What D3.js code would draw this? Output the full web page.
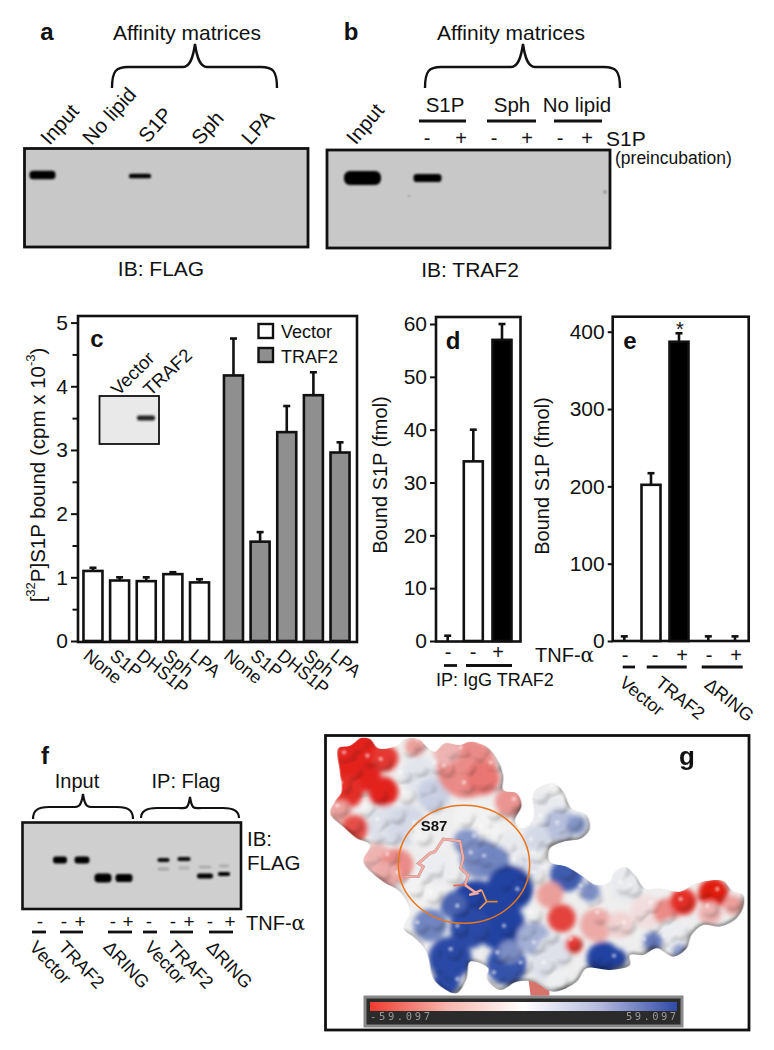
<!DOCTYPE html>
<html><head><meta charset="utf-8"><style>
html,body{margin:0;background:#fff}
svg{display:block}
text{font-family:"Liberation Sans",Arial,sans-serif;fill:#111}
</style><script src="https://cdn.jsdelivr.net/npm/d3@7"></script></head><body>
<svg id="fig" width="774" height="1050"></svg>
<script>
// ---- panel c
const cTreat=["None","S1P","DHS1P","Sph","LPA"];
const cGroups=["Vector","TRAF2"];
const cVector=[1.10,0.95,0.94,1.05,0.92];
const cVectorTop=[1.15,1.00,1.00,1.08,0.97];
const cTraf=[4.17,1.56,3.28,3.86,2.96];
const cTrafTop=[4.75,1.71,3.69,4.22,3.12];
const cTicks=[0,1,2,3,4,5];
const cMinor=[0.5,1.5,2.5,3.5,4.5];
// ---- panel d
const dKeys=["IgG","TRAF2-","TRAF2+"];
const dVal=[0,34,57];
const dTop=[1,40,60];
const dTicks=[0,10,20,30,40,50,60];
const dSigns=["-","-","+"];
// ---- panel e
const eKeys=["V-","T-","T+","R-","R+"];
const eVal=[0,202,387,0,0];
const eTop=[6,217,398,6,6];
const eTicks=[0,100,200,300,400];
const eSigns=["-","-","+","-","+"];
// ---- blot labels
const aLanes=["Input","No lipid","S1P","Sph","LPA"];
const bGroups=["S1P","Sph","No lipid"];
const fGroups=["Vector","TRAF2","ΔRING","Vector","TRAF2","ΔRING"];
const colorStops=["-59.097","59.097"];

const svg=d3.select("#fig");
const defs=svg.append("defs");
[["b1",0.8],["b2",1.4],["b3",5],["b4",16],["b5",3],["b6",8]].forEach(([id,s])=>{
  defs.append("filter").attr("id",id).attr("x","-50%").attr("y","-50%").attr("width","200%").attr("height","200%")
   .append("feGaussianBlur").attr("stdDeviation",s);
});

function txt(x,y,s,o={}){
  const t=svg.append("text").attr("x",x).attr("y",y).text(s)
    .attr("font-size",o.size||18).attr("text-anchor",o.anchor||"start").attr("dominant-baseline","central");
  if(o.bold)t.attr("font-weight","bold");
  if(o.rot!=null)t.attr("transform",`rotate(${o.rot} ${x} ${y})`);
  if(o.fam)t.style("font-family",o.fam);
  if(o.fill)t.style("fill",o.fill);
  return t;
}
function brace(x0,x1,xm,yTop,yLine,yEnd,w){
  const p=d3.path();
  p.moveTo(x0,yEnd);p.bezierCurveTo(x0,yLine+4,x0+4,yLine,x0+16,yLine);
  p.lineTo(xm-12,yLine);p.bezierCurveTo(xm-5,yLine,xm-2,yTop+14,xm,yTop);
  p.bezierCurveTo(xm+2,yTop+14,xm+5,yLine,xm+12,yLine);
  p.lineTo(x1-16,yLine);p.bezierCurveTo(x1-4,yLine,x1,yLine+4,x1,yEnd);
  svg.append("path").attr("d",p.toString()).attr("fill","none").attr("stroke","#111").attr("stroke-width",w||2.4);
}
function hline(x0,x1,y,w){svg.append("line").attr("x1",x0).attr("x2",x1).attr("y1",y).attr("y2",y).attr("stroke","#111").attr("stroke-width",w||2.8);}
function box(x0,y0,x1,y1,fill,w){svg.append("rect").attr("x",x0).attr("y",y0).attr("width",x1-x0).attr("height",y1-y0).attr("fill",fill).attr("stroke","#111").attr("stroke-width",w||2.6);}
function band(cx,cy,w,h,op,blur,col){svg.append("rect").attr("x",cx-w/2).attr("y",cy-h/2).attr("width",w).attr("height",h).attr("rx",h/2.4).attr("fill",col||"#050505").attr("opacity",op==null?1:op).attr("filter",`url(#${blur||"b1"})`);}

// ===== a
txt(47,31,"a",{bold:true,size:24,anchor:"middle"});
txt(187,32,"Affinity matrices",{anchor:"middle",size:21});
brace(112,277,195,44,67,88);
[[44,141],[86,141],[142,139],[195,141],[245,141]].forEach((p,i)=>txt(p[0],p[1],aLanes[i],{rot:-48,size:20.5}));
box(24.5,148.5,308,247,"#c8c8c8",2.8);
band(42.5,175,26,8.5,1,"b1");
band(140,176,22,4.5,1,"b1");
txt(161,268,"IB: FLAG",{anchor:"middle",size:21});
// ===== b
txt(351,31,"b",{bold:true,size:24,anchor:"middle"});
txt(511,32,"Affinity matrices",{anchor:"middle",size:21});
brace(425,620,523,44,67,88);
txt(350,141,"Input",{rot:-50,size:20.5});
[[445],[512],[577]].forEach((p,i)=>txt(p[0],104,bGroups[i],{anchor:"middle",size:20.5}));
hline(419,466,121);hline(487,536,121);hline(554,602,121);
["-","+","-","+","-","+"].forEach((s,i)=>txt([427,461,494,527,560,587][i],138,s,{anchor:"middle",size:20}));
txt(606,138,"S1P",{size:21});
txt(615,158,"(preincubation)",{size:17.5});
box(327,150,610,248,"#c8c8c8",2.8);
band(362.5,178,37,14,1,"b1");
band(427.5,178,28,8,1,"b1");
band(605,192,3,3,.35,"b1");
band(409,196,2,2,.25,"b1");
txt(470,269,"IB: TRAF2",{anchor:"middle",size:21});

// ===== bar helpers
function axisL(x,scale,ticks,size,fs,minor){
  const g=svg.append("g").attr("transform",`translate(${x},0)`)
    .call(d3.axisLeft(scale).tickValues(ticks).tickSize(size).tickPadding(3).tickFormat(d3.format("d")));
  g.select(".domain").remove();
  g.selectAll("line").attr("stroke","#111").attr("stroke-width",2);
  g.selectAll("text").attr("font-size",fs).style("font-family",'"Liberation Sans",Arial,sans-serif').style("fill","#111");
  if(minor){
    const m=svg.append("g").attr("transform",`translate(${x},0)`).call(d3.axisLeft(scale).tickValues(minor).tickSize(size-1.5).tickFormat(""));
    m.select(".domain").remove();m.selectAll("line").attr("stroke","#111").attr("stroke-width",2);
  }
}
function bars(y,xc,keys,vals,tops,fills,bw){
  const base=y(0);
  keys.forEach((k,i)=>{
    const c=xc(k);
    svg.append("line").attr("x1",c).attr("x2",c).attr("y1",y(vals[i])).attr("y2",y(tops[i])).attr("stroke","#111").attr("stroke-width",2.6);
    svg.append("line").attr("x1",c-3.5).attr("x2",c+3.5).attr("y1",y(tops[i])).attr("y2",y(tops[i])).attr("stroke","#111").attr("stroke-width",2.6);
    if(vals[i]>0)svg.append("rect").attr("x",c-bw/2).attr("y",y(vals[i])).attr("width",bw).attr("height",base-y(vals[i])).attr("fill",fills[i]).attr("stroke","#111").attr("stroke-width",2.6);
  });
}

// ===== c
const cy=d3.scaleLinear().domain([0,5]).range([641,322.6]);
box(78,316,357,642,"#fff",2.6);
const cOuter=d3.scaleBand().domain(cGroups).range([79.65,353.35]).paddingInner(0.052);
const cInner=d3.scaleBand().domain(cTreat).range([0,cOuter.bandwidth()]);
const xV=k=>cOuter("Vector")+cInner(k)+cInner.bandwidth()/2;
const xT=k=>cOuter("TRAF2")+cInner(k)+cInner.bandwidth()/2;
bars(cy,xV,cTreat,cVector,cVectorTop,cTreat.map(()=>"#fff"),19);
bars(cy,xT,cTreat,cTraf,cTrafTop,cTreat.map(()=>"#8f8f8f"),19);
axisL(78,cy,cTicks,7,21,cMinor);
cTreat.forEach(k=>{txt(xV(k)-7,653,k,{rot:39,size:18});txt(xT(k)-7,653,k,{rot:39,size:18});});
txt(97,338,"c",{bold:true,size:24,anchor:"middle"});
box(258.5,324,273,338,"#fff",2.4);box(258.5,348,273,362,"#8f8f8f",2.4);
txt(281,332,"Vector",{size:18});txt(281,357,"TRAF2",{size:18});
const yl=svg.append("text").attr("transform","translate(37,475) rotate(-90)").attr("text-anchor","middle").attr("dominant-baseline","central").attr("font-size",20.5);
yl.append("tspan").text("[");
yl.append("tspan").text("32").attr("font-size",13).attr("dy",-7);
yl.append("tspan").text("P]S1P bound (cpm x 10").attr("dy",7);
yl.append("tspan").text("-3").attr("font-size",13).attr("dy",-7);
yl.append("tspan").text(")").attr("dy",7);
// inset
box(99.5,396,159,444,"#e9e9e9",1.8);
band(146,418,18,5,1,"b1","#222");
txt(114,392,"Vector",{rot:-45,size:18.5});txt(146,392,"TRAF2",{rot:-43,size:18.5});

// ===== d
const dy=d3.scaleLinear().domain([0,60]).range([641,324]);
box(436,317,520.5,641.5,"#fff",2.6);
const dx=d3.scaleOrdinal().domain(dKeys).range([447.7,473.3,502]);
bars(dy,dx,dKeys,dVal,dTop,["#fff","#fff","#000"],19);
axisL(436,dy,dTicks,6,21);
txt(453,340,"d",{bold:true,size:24,anchor:"middle"});
dKeys.forEach((k,i)=>txt([448,473,498][i],652,dSigns[i],{anchor:"middle",size:20}));
hline(444,457,665.5);hline(466,512,665.5);
txt(436,680,"IP: IgG TRAF2",{size:18});
txt(380,475,"Bound S1P (fmol)",{rot:-90,anchor:"middle",size:20});

// ===== e
const ey=d3.scaleLinear().domain([0,400]).range([641,331.7]);
box(612.7,316.7,748.7,641,"#fff",2.6);
const ex=d3.scaleOrdinal().domain(eKeys).range([624.3,651,679,708.3,735]);
bars(ey,ex,eKeys,eVal,eTop,["#fff","#fff","#000","#fff","#fff"],19);
axisL(612.7,ey,eTicks,5,21);
txt(630,340,"e",{bold:true,size:24,anchor:"middle"});
txt(680,329,"*",{anchor:"middle",size:20});
eKeys.forEach((k,i)=>txt([625,655,682,709,736][i],655,eSigns[i],{anchor:"middle",size:20}));
hline(622.7,635,667);hline(646.7,686.7,667);hline(701.7,742.7,667);
[[622,680,"Vector"],[658,680,"TRAF2"],[707,682,"ΔRING"]].forEach(p=>txt(p[0],p[1],p[2],{rot:39,size:18}));
txt(542,476,"Bound S1P (fmol)",{rot:-90,anchor:"middle",size:20});
const tnf=(x,y)=>{const t=svg.append("text").attr("x",x).attr("y",y).attr("dominant-baseline","central").attr("font-size",20);t.append("tspan").text("TNF-");t.append("tspan").text("α").style("font-family","'DejaVu Serif',serif");};
tnf(535,655);

// ===== f
txt(45,755,"f",{bold:true,size:24,anchor:"middle"});
txt(77,781,"Input",{anchor:"middle",size:20});
txt(186,781,"IP: Flag",{anchor:"middle",size:20});
brace(33,133,83,794,807,819,2.2);
brace(141,239,190,797,808,818,2.2);
box(22.5,822.5,241,909,"#cfcfcf",2.6);
[[60,860,14,7,1],[82,860,15,7,1],[103,878,17,9,1],[124,878,17,8,1],
 [163.5,860,12,4,.95],[184,859,13,4,.95],[163.5,869,11,3,.2],[184,868,11,3,.15],
 [205,876,16,5,1],[224,874,12,4,1],[205,867,12,2.5,.2],[224,866,10,2.5,.2]].forEach(b=>band(b[0],b[1],b[2],b[3],b[4],"b1"));
txt(247,838,"IB:",{size:20.5});txt(247,862,"FLAG",{size:20.5});
[["-",40],["-",64],["+",80],["-",113],["+",128],["-",149],["-",173],["+",189],["-",210],["+",230]].forEach(p=>txt(p[1],921,p[0],{anchor:"middle",size:19}));
[[32,46],[60,83],[108,132],[143,157],[170,193],[209,233]].forEach(p=>hline(p[0],p[1],932));
tnf(246,923);
[33,62,107,148,171,210].forEach((x,i)=>txt(x,944,fGroups[i],{rot:47,size:18}));

// ===== g
box(325.5,735.5,749,1030,"#fff",2.8);
const surface=svg.append("g").attr("transform","translate(320,725) scale(0.3333)");
const outline=[[55,70],[90,62],[125,38],[150,42],[175,70],[230,62],[255,42],[295,42],[325,70],[345,80],[375,55],[420,60],[450,50],[500,65],[530,100],[550,150],[550,195],[590,205],[605,240],[585,290],[610,310],[640,280],[640,205],[660,185],[700,175],[730,200],[755,250],[800,270],[810,310],[785,340],[730,350],[690,370],[690,410],[740,425],[790,455],[830,480],[870,470],[880,445],[915,425],[945,450],[975,490],[1020,490],[1080,500],[1130,475],[1210,468],[1235,495],[1270,510],[1272,540],[1250,580],[1200,605],[1150,600],[1115,630],[1100,670],[1060,695],[1010,670],[970,690],[930,690],[930,720],[870,735],[800,730],[770,770],[700,800],[640,770],[590,770],[540,795],[500,760],[505,730],[450,710],[440,760],[410,805],[370,790],[340,760],[320,680],[285,640],[250,610],[270,560],[240,500],[190,470],[130,410],[150,360],[110,340],[75,310],[30,265],[45,230],[65,200],[60,140]];
const closed=d3.line().curve(d3.curveCatmullRomClosed.alpha(0.5));
defs.append("clipPath").attr("id","sil").append("path").attr("d",closed(outline));
const charge=d3.scaleLinear().domain([-1,0,1]).range(["#e3241c","#f2f2f2","#2c4aa6"]);
surface.append("path").attr("d","M625,760L690,760L688,812L632,812Z").attr("fill","#d8736b");
const inner=surface.append("g").attr("clip-path","url(#sil)");
inner.append("rect").attr("width",1300).attr("height",830).attr("fill","#efefef");
const patches=[
[300,150,55,.08],[340,210,50,.2],[200,300,60,.1],[260,300,60,.15],[310,330,40,0],
[440,130,90,-.5],[490,160,50,-.6],[570,230,45,-.45],[285,65,30,-.4],[380,80,40,-.3],
[110,130,75,-1],[100,85,55,-1],[130,70,45,-1],[190,200,45,-1],[80,200,50,-.95],[60,260,35,-.4],[105,310,40,-.8],[195,100,40,-.9],
[170,400,45,-.3],[230,420,50,-.5],[200,450,40,-.35],
[320,490,60,0],[350,430,50,.03],[450,280,50,0],[500,320,50,0],[570,370,45,.05],[620,430,40,.1],
[440,350,40,.55],[480,400,60,.6],[520,410,50,.65],[570,490,70,1.05],[470,550,85,1.05],[540,600,75,1.05],[400,540,40,.85],[450,610,60,1],
[330,600,50,.65],[390,700,65,1],[380,770,40,1],[560,720,60,.95],[570,680,35,.6],[640,640,50,.4],[680,720,50,.1],[720,770,40,.02],
[680,250,50,.05],[720,300,50,.3],[770,300,30,.55],[650,340,40,.15],
[740,450,50,.9],[810,500,30,.6],[920,480,50,.05],
[830,600,50,-.35],[900,600,40,-.15],[980,560,50,-.1],[1040,560,40,-.5],[1090,530,40,-.95],[1180,505,45,-1.05],[1240,540,30,-.4],[1170,565,35,-.3],[1060,630,50,.03],[850,700,50,1.05],[890,700,30,1.05],[1000,650,30,.7],[1080,680,25,.5],[700,680,50,.1],
[690,510,40,-.4],[725,580,42,-.85],[762,660,26,-.9]];
inner.append("g").attr("filter","url(#b6)").selectAll("circle").data(patches).join("circle")
  .attr("cx",d=>d[0]).attr("cy",d=>d[1]).attr("r",d=>d[2]).attr("fill",d=>charge(d[3]));
// bumpy relief: the alpha of this layer is a height map, lit from the upper left and multiplied over the colours
const lumps=[[80,90],[120,60],[150,100],[100,140],[70,180],[130,190],[190,110],[175,210],[60,250],[100,300],[140,250],
[270,70],[300,50],[385,80],[430,75],[480,85],[520,120],[440,130],[380,130],[490,170],[440,180],[530,170],
[250,150],[300,130],[350,120],[320,190],[260,210],[340,235],[180,290],[230,270],[290,300],[170,330],[310,335],[215,335],
[590,230],[560,250],[520,260],[160,395],[210,395],[190,440],[240,450],
[440,280],[490,310],[520,340],[470,340],[560,370],[590,410],[610,440],[650,450],
[350,430],[310,450],[290,490],[340,510],[400,450],
[500,400],[540,420],[460,390],[430,350],[420,550],[460,520],[600,500],[560,470],
[300,600],[350,590],[420,610],[480,620],[560,610],[340,680],[400,680],[390,740],[420,770],[350,720],[540,690],[580,680],[530,750],[570,750],[610,720],
[660,210],[700,190],[720,240],[670,280],[760,290],[720,300],[680,340],[640,350],[730,330],[650,390],
[740,440],[790,490],[820,520],[640,570],[690,630],[650,660],[730,690],[680,720],[720,770],[760,650],[620,620],
[840,570],[880,590],[920,600],[960,560],[1000,540],[1040,570],[1090,530],[1150,495],[1200,500],[1240,530],[1170,550],[1080,620],[1040,640],[1000,600],[910,480],[900,440],[940,490],[850,700],[890,700],[820,690],[980,650],[1070,680]];
const relief=defs.append("filter").attr("id","relief").attr("filterUnits","userSpaceOnUse").attr("x",0).attr("y",0).attr("width",1300).attr("height",830).attr("color-interpolation-filters","sRGB");
relief.append("feGaussianBlur").attr("in","SourceAlpha").attr("stdDeviation",7).attr("result","h");
const lit=relief.append("feDiffuseLighting").attr("in","h").attr("surfaceScale",10).attr("diffuseConstant",1.15).attr("lighting-color","#fff").attr("result","l");
lit.append("feDistantLight").attr("azimuth",235).attr("elevation",60);
const reliefG=inner.append("g").attr("filter","url(#relief)").style("mix-blend-mode","multiply");
reliefG.append("path").attr("d",closed(outline)).attr("fill","#000").attr("fill-opacity",.45);
reliefG.selectAll("circle").data(lumps).join("circle").attr("cx",d=>d[0]).attr("cy",d=>d[1]).attr("r",24).attr("fill","#000").attr("opacity",.35);
// glossy spots
inner.append("g").attr("filter","url(#b5)").selectAll("circle").data(lumps.filter((d,i)=>i%2==0)).join("circle").attr("cx",d=>d[0]-8).attr("cy",d=>d[1]-8).attr("r",7).attr("fill","#fff").attr("opacity",.5);
// ligand
const ligand=[[255,455],[295,455],[310,425],[295,415],[330,385],[345,380],[370,342],[420,348],[430,400],[422,430],[445,450],[435,480],[470,505],[448,510],[485,495]];
const straight=d3.line();
surface.append("path").attr("d",straight(ligand)).attr("fill","none").attr("stroke","#8a5a58").attr("stroke-width",8.5).attr("opacity",.7);
surface.append("path").attr("d",straight(ligand)).attr("fill","none").attr("stroke","#f2aca4").attr("stroke-width",7);
surface.append("path").attr("d",straight([[485,495],[500,530],[478,552]])).attr("fill","none").attr("stroke","#ef9a5a").attr("stroke-width",5);
surface.append("path").attr("d",straight([[400,482],[435,480]])).attr("fill","none").attr("stroke","#e8604a").attr("stroke-width",5);
surface.append("path").attr("d",straight([[500,530],[533,530]])).attr("fill","none").attr("stroke","#e88a1f").attr("stroke-width",5);
surface.append("ellipse").attr("cx",432).attr("cy",418).attr("rx",197).attr("ry",177).attr("fill","none").attr("stroke","#e8761c").attr("stroke-width",4.5);
txt(434,825,"S87",{bold:true,size:15,anchor:"middle"});
txt(687,756,"g",{bold:true,size:26,anchor:"middle"});
// colour key
const grad=defs.append("linearGradient").attr("id","key");
["#ee3b2e","#f7b5ad","#ffffff","#b4b8dd","#2f4ba8"].forEach((c,i)=>grad.append("stop").attr("offset",i/4).attr("stop-color",c));
svg.append("rect").attr("x",365).attr("y",997).attr("width",317).attr("height",29).attr("fill","#2b2b2b").attr("stroke","#888").attr("stroke-width",3);
svg.append("rect").attr("x",370).attr("y",1002).attr("width",307).attr("height",9).attr("fill","url(#key)");
txt(370,1016,colorStops[0],{size:10.5,fam:"'DejaVu Sans Mono',monospace",fill:"#999"}).attr("textLength",60);
txt(676,1016,colorStops[1],{size:10.5,anchor:"end",fam:"'DejaVu Sans Mono',monospace",fill:"#999"}).attr("textLength",50);
</script></body></html>
